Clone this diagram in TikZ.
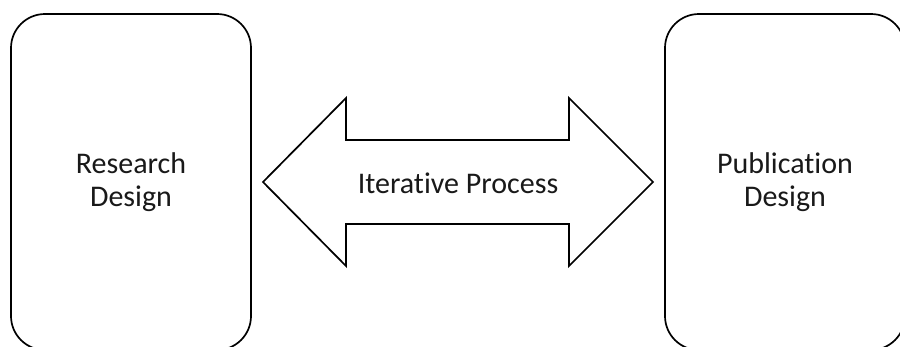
\documentclass[tikz,border=0pt]{standalone}
\usepackage{fontspec}
\setmainfont{Carlito}[Ligatures=NoCommon]
\begin{document}
\begin{tikzpicture}[x=1pt,y=-1pt,
  panel/.style={draw=black, line width=1.7pt, rounded corners=34pt, fill=white,
    minimum width=240pt, minimum height=336pt, inner sep=0pt, align=center,
    font=\fontsize{30}{32.5}\selectfont, text=black!90},
  lbl/.style={font=\fontsize{30}{32.5}\selectfont, text=black!90, inner sep=0pt}]
\useasboundingbox (0,0) rectangle (900,346);
\clip (0,0) rectangle (900,346);
\fill[white] (0,0) rectangle (900,346);
\node[panel] (rd) at (131,182) {Research\\Design};
\node[panel] (pd) at (785,182) {Publication\\Design};
\coordinate (tl) at (263,182);
\coordinate (tr) at (653,182);
\draw[line width=1.7pt, line join=miter, fill=white]
  (tl) -- (346,98) -- (346,140) -- (569,140) -- (569,98) -- (tr)
  -- (569,266) -- (569,224) -- (346,224) -- (346,266) -- cycle;
\node[lbl] (ip) at (458,183) {Iterative Process};
\end{tikzpicture}
\end{document}
